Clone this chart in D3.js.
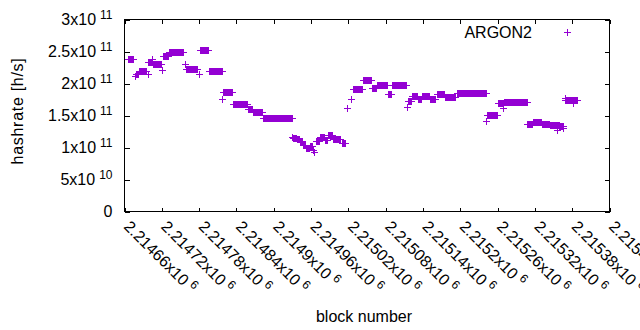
<!DOCTYPE html>
<html>
<head>
<meta charset="utf-8">
<script src="https://cdn.jsdelivr.net/npm/d3@7"></script>
<style>
  body { margin: 0; background: #fff; }
  svg { display: block; font-family: "Liberation Sans", Arial, sans-serif; }
</style>
</head>
<body>
<div class="containers"></div>
<script>
// runs of consecutive blocks sharing one hashrate value (GH/s)
const runStart = [2214666, 2214677, 2214678, 2214684, 2214697, 2214698, 2214704, 2214706, 2214720, 2214722,
  2214732, 2214758, 2214759, 2214780, 2214782, 2214796, 2214817, 2214819, 2214835, 2214859,
  2214867, 2214883, 2214930, 2214931, 2214938, 2214943, 2214947, 2214952, 2214959, 2214963,
  2214965, 2214968, 2214975, 2214983, 2214988, 2214996, 2215009, 2215018, 2215025, 2215028,
  2215044, 2215058, 2215066, 2215084, 2215090, 2215115, 2215116, 2215123, 2215132, 2215139,
  2215152, 2215163, 2215176, 2215195, 2215242, 2215243, 2215261, 2215269, 2215271, 2215308,
  2215317, 2215332, 2215345, 2215356, 2215358, 2215366, 2215369, 2215369, 2215382]
const runEnd = [2214674, 2214677, 2214682, 2214695, 2214697, 2214705, 2214704, 2214719, 2214720, 2214730,
  2214754, 2214758, 2214777, 2214780, 2214795, 2214816, 2214817, 2214833, 2214857, 2214865,
  2214881, 2214929, 2214930, 2214936, 2214941, 2214946, 2214951, 2214957, 2214962, 2214963,
  2214965, 2214973, 2214981, 2214986, 2214994, 2215007, 2215015, 2215018, 2215025, 2215042,
  2215057, 2215065, 2215082, 2215089, 2215113, 2215115, 2215121, 2215131, 2215137, 2215150,
  2215160, 2215174, 2215192, 2215242, 2215242, 2215259, 2215269, 2215269, 2215308, 2215316,
  2215330, 2215343, 2215358, 2215356, 2215366, 2215366, 2215388, 2215369, 2215382]
const runRate = [238, 211, 215, 220, 215, 234, 239, 231, 221, 243,
  249.5, 230, 223, 215, 252, 220, 176, 187, 168, 160,
  155, 146, 116, 115, 113, 110, 104, 100, 102, 96,
  93, 110, 116, 112, 119, 114, 107, 162, 175, 191,
  205.5, 193, 198, 184, 198, 164, 173, 180, 176.5, 180,
  175, 184, 179, 185.5, 142, 151, 169, 162, 171, 137,
  140, 137, 135, 127, 133, 130, 174, 178, 169]

const seriesName = 'ARGON2'
const xTicks = [2214660, 2214720, 2214780, 2214840, 2214900, 2214960, 2215020,
  2215080, 2215140, 2215200, 2215260, 2215320, 2215380, 2215440]
const yTicks = [0, 5e10, 1e11, 1.5e11, 2e11, 2.5e11, 3e11]

const width = 640
const height = 330
const color = '#9400d3'

const points = []
runStart.forEach((s, i) => {
  for (let b = s; b <= runEnd[i]; b++) points.push({ block: b, rate: runRate[i] * 1e9 })
})

const x = d3.scaleLinear().domain([2214660, 2215440]).range([124.5, 609.5])
const y = d3.scaleLinear().domain([0, 3e11]).range([211.5, 19.5])

const svg = d3.select('.containers')
  .append('svg')
  .attr('width', width)
  .attr('height', height)
  .attr('viewBox', [0, 0, width, height])

svg.append('rect').attr('width', width).attr('height', height).attr('fill', '#fff')

// mantissa / exponent split for gnuplot style "2.5x10^11"
const sci = v => {
  if (v === 0) return null
  const e = Math.floor(Math.log10(Math.abs(v)))
  return [String(+(v / Math.pow(10, e)).toPrecision(6)), String(e)]
}
const writeLabel = (text, v) => {
  const p = sci(v)
  if (!p) { text.text('0'); return }
  text.text(null)
  text.append('tspan').text(p[0] + 'x10')
  text.append('tspan').attr('dx', 4).attr('dy', -6).attr('font-size', 12).text(p[1])
}

const drawAxis = (axis, tx, ty) => svg.append('g')
  .attr('transform', `translate(${tx},${ty})`)
  .call(axis)
  .call(g => g.select('.domain').remove())
  .call(g => g.selectAll('line').attr('stroke', '#000').attr('shape-rendering', 'crispEdges'))

// left axis with labels
drawAxis(d3.axisLeft(y).tickValues(yTicks).tickSizeInner(-5).tickSizeOuter(0).tickPadding(12), 124.5, 0)
  .call(g => g.selectAll('text')
    .attr('font-size', 16)
    .attr('fill', '#000')
    .attr('font-family', '"Liberation Sans", Arial, sans-serif')
    .each(function (d) { writeLabel(d3.select(this), d) }))

// mirrored ticks
drawAxis(d3.axisRight(y).tickValues(yTicks).tickSizeInner(-5).tickSizeOuter(0).tickFormat(''), 609.5, 0)
drawAxis(d3.axisTop(x).tickValues(xTicks).tickSizeInner(-4).tickSizeOuter(0).tickFormat(''), 0, 19.5)

// bottom axis, rotated labels
drawAxis(d3.axisBottom(x).tickValues(xTicks).tickSizeInner(-4).tickSizeOuter(0).tickFormat(''), 0, 211.5)
  .call(g => g.selectAll('.tick')
    .append('text')
    .attr('transform', 'translate(2,12) rotate(45)')
    .attr('text-anchor', 'start')
    .attr('dy', '0.35em')
    .attr('font-size', 16)
    .attr('fill', '#000')
    .attr('font-family', '"Liberation Sans", Arial, sans-serif')
    .each(function (d) { writeLabel(d3.select(this), d) }))

// plot border
svg.append('rect')
  .attr('x', 124.5).attr('y', 19.5)
  .attr('width', 485).attr('height', 192)
  .attr('fill', 'none')
  .attr('stroke', '#000')
  .attr('shape-rendering', 'crispEdges')

const cross = (cx, cy) => `M${cx - 3.5},${cy}h7M${cx},${cy - 3.5}v7`

svg.append('g')
  .attr('stroke', color)
  .attr('stroke-width', 1)
  .attr('shape-rendering', 'crispEdges')
  .selectAll('path')
  .data(points)
  .join('path')
  .attr('d', d => cross(Math.round(x(d.block)) + 0.5, Math.round(y(d.rate)) + 0.5))

// key
svg.append('text')
  .attr('x', 532).attr('y', 32)
  .attr('dy', '0.35em')
  .attr('text-anchor', 'end')
  .attr('font-size', 16)
  .text(seriesName)
svg.append('path')
  .attr('d', cross(567.5, 32.5))
  .attr('stroke', color)
  .attr('shape-rendering', 'crispEdges')

// axis titles
svg.append('text')
  .attr('transform', 'translate(17,111) rotate(-90)')
  .attr('text-anchor', 'middle')
  .attr('dy', '0.35em')
  .attr('font-size', 16)
  .attr('letter-spacing', 0.7)
  .text('hashrate [h/s]')

svg.append('text')
  .attr('x', 364).attr('y', 316)
  .attr('dy', '0.35em')
  .attr('text-anchor', 'middle')
  .attr('font-size', 16)
  .text('block number')
</script>
</body>
</html>
